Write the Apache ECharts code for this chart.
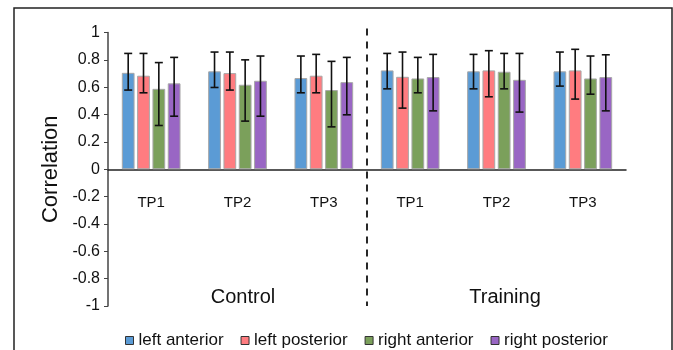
<!DOCTYPE html>
<html><head><meta charset="utf-8">
<script src="https://cdn.jsdelivr.net/npm/echarts@6/dist/echarts.min.js"></script>
<style>html,body{margin:0;padding:0;background:#fff}#c{width:673px;height:350px}</style>
</head><body><div id="c"></div>
<script>
var categories = ['C-TP1','C-TP2','C-TP3','T-TP1','T-TP2','T-TP3'];
var tickLabels = ['TP1','TP2','TP3','TP1','TP2','TP3'];
var seriesNames = ['left anterior','left posterior','right anterior','right posterior'];
var leftAnterior   = [0.705, 0.716, 0.667, 0.723, 0.716, 0.716];
var leftPosterior  = [0.684, 0.703, 0.684, 0.676, 0.723, 0.723];
var rightAnterior  = [0.588, 0.618, 0.579, 0.664, 0.713, 0.664];
var rightPosterior = [0.628, 0.647, 0.637, 0.674, 0.654, 0.674];
var leftAnteriorErr   = [[0.579,0.847],[0.598,0.857],[0.559,0.828],[0.588,0.847],[0.588,0.840],[0.608,0.857]];
var leftPosteriorErr  = [[0.559,0.847],[0.579,0.857],[0.559,0.840],[0.447,0.857],[0.530,0.867],[0.513,0.877]];
var rightAnteriorErr  = [[0.320,0.780],[0.352,0.800],[0.310,0.789],[0.559,0.818],[0.588,0.847],[0.549,0.828]];
var rightPosteriorErr = [[0.388,0.818],[0.388,0.828],[0.398,0.818],[0.427,0.840],[0.418,0.847],[0.427,0.837]];
var groupLabels = ['Control','Training'];

var values = [leftAnterior, leftPosterior, rightAnterior, rightPosterior];
var errs = [leftAnteriorErr, leftPosteriorErr, rightAnteriorErr, rightPosteriorErr];
var colors = ['#5B9BD5','#FF7C80','#7BA05B','#9966C4'];
var CAT_GAP = 0.32, BAR_GAP = 0.2, N = 4;
var FONT = 'Liberation Sans, Arial, sans-serif';

var chart = echarts.init(document.getElementById('c'));
var series = [];
values.forEach(function(v,i){
  series.push({
    name: seriesNames[i], type:'bar', data: v,
    barGap: (BAR_GAP*100)+'%', barCategoryGap: (CAT_GAP*100)+'%',
    itemStyle:{color:colors[i], borderColor:'#a8a8a8', borderWidth:1},
    silent:true
  });
});
errs.forEach(function(e,i){
  series.push({
    type:'custom', silent:true, z:5,
    data: e.map(function(d,k){return [k,d[0],d[1]];}),
    renderItem:function(params, api){
      var k = api.value(0);
      var lo = api.coord([k, api.value(1)]);
      var hi = api.coord([k, api.value(2)]);
      var band = api.size([1,0])[0];
      var bw = band*(1-CAT_GAP)/(N+(N-1)*BAR_GAP);
      var gw = bw*N + bw*BAR_GAP*(N-1);
      var x = lo[0] - gw/2 + i*bw*(1+BAR_GAP) + bw/2;
      var cap = 4;
      var st = {stroke:'#111', lineWidth:1.6};
      return {type:'group', children:[
        {type:'line', shape:{x1:x,y1:lo[1],x2:x,y2:hi[1]}, style:st},
        {type:'line', shape:{x1:x-cap,y1:lo[1],x2:x+cap,y2:lo[1]}, style:st},
        {type:'line', shape:{x1:x-cap,y1:hi[1],x2:x+cap,y2:hi[1]}, style:st}
      ]};
    }
  });
});
// dashed separator between groups
series.push({
  type:'custom', silent:true, z:6, clip:false,
  data:[[2,3,1.03,-1.0]],
  renderItem:function(params, api){
    var a = api.coord([api.value(0), api.value(2)]);
    var b = api.coord([api.value(1), api.value(3)]);
    var x = (a[0]+b[0])/2;
    return {type:'line', shape:{x1:x,y1:a[1],x2:x,y2:b[1]},
      style:{stroke:'#111', lineWidth:1.8, lineDash:[7,6]}};
  }
});

chart.setOption({
  animation:false,
  textStyle:{fontFamily:FONT},
  grid:{left:108, right:47, top:32.5, bottom:44, containLabel:false},
  legend:{
    data:seriesNames, bottom:1, left:125, padding:0, itemWidth:8, itemHeight:8, itemGap:17,
    icon:'rect',
    itemStyle:{borderColor:'#333', borderWidth:1},
    textStyle:{fontSize:17, color:'#111', fontFamily:FONT}
  },
  xAxis:{
    type:'category', data:categories,
    axisLine:{onZero:true, lineStyle:{color:'#222', width:1.5}},
    axisTick:{show:false},
    axisLabel:{margin:-111, fontSize:15, color:'#111', formatter:function(v,idx){return tickLabels[idx];}}
  },
  yAxis:{
    type:'value', min:-1, max:1, interval:0.2,
    name:'Correlation', nameLocation:'middle', nameGap:37,
    nameTextStyle:{fontSize:22, color:'#111'},
    splitLine:{show:false},
    axisLine:{show:true, lineStyle:{color:'#444', width:1.5}},
    axisTick:{show:true, inside:false, length:4, lineStyle:{color:'#444'}},
    axisLabel:{margin:8, fontSize:16, color:'#111', formatter:function(v){return String(Math.round(v*10)/10);}}
  },
  graphic:[
    {type:'rect', shape:{x:14,y:8,width:658,height:400}, style:{fill:null, stroke:'#222', lineWidth:1.5}, silent:true},
    {type:'text', x:243, y:297, style:{text:groupLabels[0], fontSize:20, fill:'#111', align:'center', verticalAlign:'middle', fontFamily:FONT}},
    {type:'text', x:505, y:297, style:{text:groupLabels[1], fontSize:20, fill:'#111', align:'center', verticalAlign:'middle', fontFamily:FONT}}
  ],
  series:series
});
</script></body></html>
